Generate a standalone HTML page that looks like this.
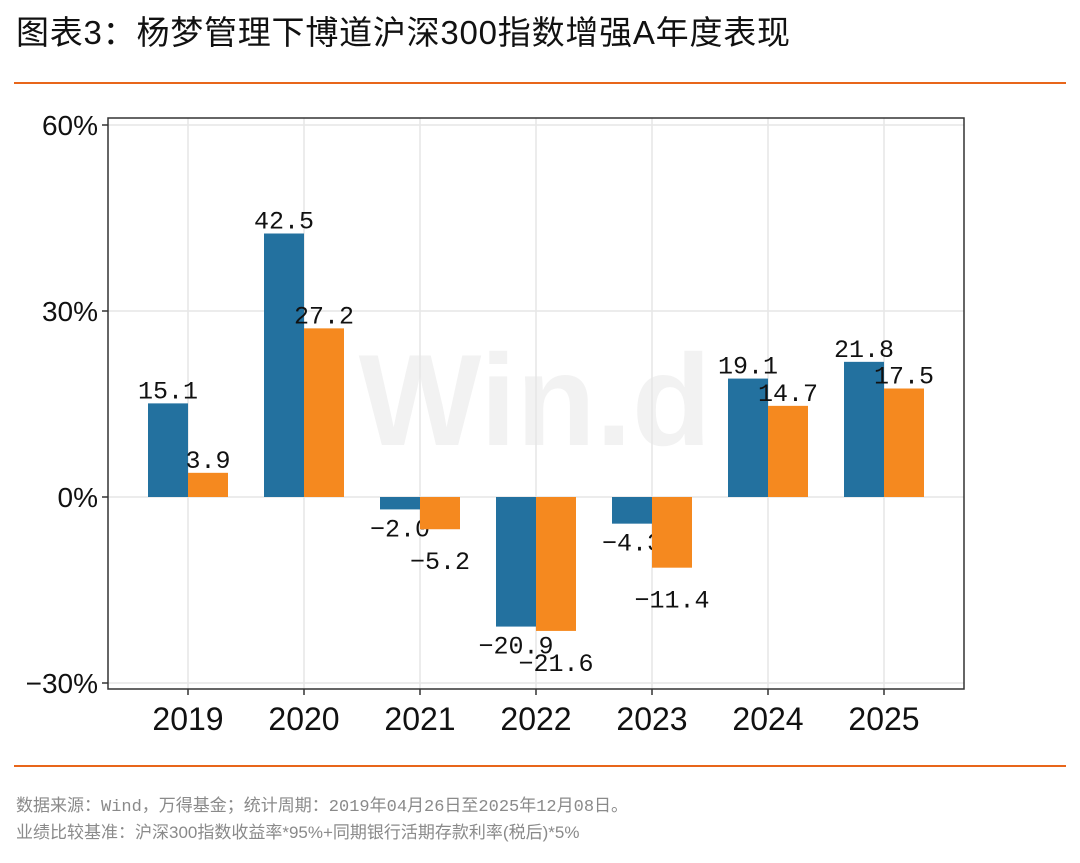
<!DOCTYPE html>
<html><head><meta charset="utf-8"><style>
body{margin:0;background:#fff;width:1080px;height:858px;overflow:hidden;font-family:"Liberation Sans","Noto Sans CJK SC",sans-serif}
</style></head><body>
<svg id="c" width="1080" height="858" xmlns="http://www.w3.org/2000/svg">
<text x="16" y="44" font-size="33" fill="#111" font-family="Liberation Sans, Noto Sans CJK SC, sans-serif" textLength="774">图表3：杨梦管理下博道沪深300指数增强A年度表现</text>
<line x1="14" y1="83" x2="1066" y2="83" stroke="#e8661a" stroke-width="2"/>
<line x1="14" y1="766" x2="1066" y2="766" stroke="#e8661a" stroke-width="2"/>
<text x="535" y="445" font-size="130" font-weight="bold" fill="#f2f2f2" text-anchor="middle">Win.d</text>
<g id="plot"></g>
<text x="16" y="811" font-size="17" fill="#8a8a8a" font-family="Liberation Mono, Noto Sans CJK SC, monospace">数据来源：Wind，万得基金；统计周期：2019年04月26日至2025年12月08日。</text>
<text x="16" y="838" font-size="17" fill="#8a8a8a" font-family="Liberation Sans, Noto Sans CJK SC, sans-serif">业绩比较基准：沪深300指数收益率*95%+同期银行活期存款利率(税后)*5%</text>
</svg>
<script>
const categories=["2019","2020","2021","2022","2023","2024","2025"];
const fundValues=[15.1,42.5,-2.0,-20.9,-4.3,19.1,21.8];
const benchValues=[3.9,27.2,-5.2,-21.6,-11.4,14.7,17.5];
const yTicks=[-30,0,30,60];
const yTickLabels=["−30%","0%","30%","60%"];
const NS="http://www.w3.org/2000/svg";
const L=108,R=964,T=118,B=689;
const y=v=>497-v*186/30;
const step=116;
const cx=i=>188+step*i;
const g=document.getElementById('plot');
function mk(t,a){const e=document.createElementNS(NS,t);for(const k in a)e.setAttribute(k,a[k]);g.appendChild(e);return e;}
categories.forEach((c,i)=>{const e=mk('line',{x1:cx(i),x2:cx(i),y1:T,y2:B,stroke:'#e6e6e6','stroke-width':1.5});

});
yTicks.forEach((v,i)=>{const e=mk('line',{x1:L,x2:R,y1:y(v),y2:y(v),stroke:'#e6e6e6','stroke-width':1.5});


const tk=mk('line',{x1:L-6,x2:L,y1:y(v),y2:y(v),stroke:'#333','stroke-width':1.5});


const t=mk('text',{x:L-10,y:y(v)+10,'font-size':28,'text-anchor':'end',fill:'#111'});t.textContent=yTickLabels[i];

});
const bw=40;
function bars(vals,off,color,name,negOff){
vals.forEach((v,i)=>{const x=cx(i)+off;const y0=y(0),y1=y(v);
const r=mk('rect',{x:x,y:Math.min(y0,y1),width:bw,height:Math.abs(y1-y0),fill:color});


const t=mk('text',{x:x+bw/2,y:v>=0?y1-5:y1+negOff,'font-size':25,'text-anchor':'middle',fill:'#111','font-family':'Liberation Mono, monospace'});
t.textContent=(v<0?'−':'')+Math.abs(v).toFixed(1);

});}
bars(fundValues,-bw,'#23719f','fund',27);
bars(benchValues,0,'#f5891f','benchmark',40);
const fr=mk('rect',{x:L,y:T,width:R-L,height:B-T,fill:'none',stroke:'#333','stroke-width':1.5});


categories.forEach((c,i)=>{const tk=mk('line',{x1:cx(i),x2:cx(i),y1:B,y2:B+6,stroke:'#333','stroke-width':1.5});


const t=mk('text',{x:cx(i),y:B+41,'font-size':32,'text-anchor':'middle',fill:'#111'});t.textContent=c;

});
</script>
</body></html>
